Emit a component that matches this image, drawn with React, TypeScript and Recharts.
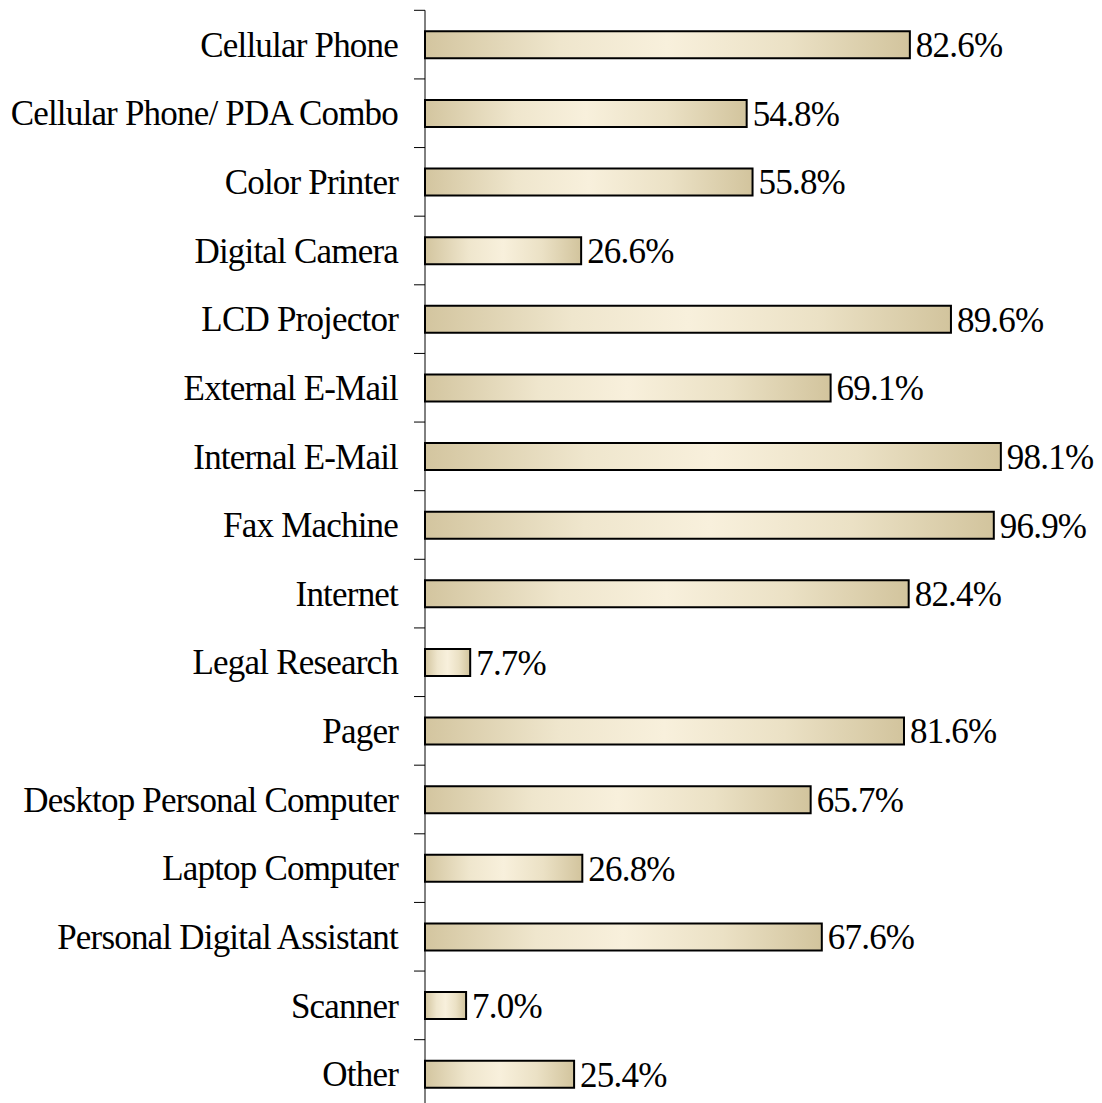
import { BarChart, Bar, XAxis, YAxis, LabelList } from "recharts"

const categories = [
  "Cellular Phone",
  "Cellular Phone/ PDA Combo",
  "Color Printer",
  "Digital Camera",
  "LCD Projector",
  "External E-Mail",
  "Internal E-Mail",
  "Fax Machine",
  "Internet",
  "Legal Research",
  "Pager",
  "Desktop Personal Computer",
  "Laptop Computer",
  "Personal Digital Assistant",
  "Scanner",
  "Other",
]

const percents = [
  82.6, 54.8, 55.8, 26.6, 89.6, 69.1, 98.1, 96.9, 82.4, 7.7, 81.6, 65.7, 26.8,
  67.6, 7.0, 25.4,
]

const data = categories.map((name, i) => ({ name, value: percents[i] }))

// chart geometry (plot runs a little past the bottom of the picture)
const W = 1102
const H = 1110
const MT = 10.3
const MB = 1.7
const BAND = (H - MT - MB) / categories.length
const FONT = '"Liberation Serif", "Times New Roman", serif'

function CategoryTick(props: any) {
  const { x, y, payload, index } = props
  // tick marks sit on the band boundaries, not the band centres
  const axisX = x + 16 + 11
  return (
    <g>
      <line x1={axisX - 11} x2={axisX} y1={y - BAND / 2} y2={y - BAND / 2} stroke="#000" />
      {index === categories.length - 1 && (
        <line x1={axisX - 11} x2={axisX} y1={y + BAND / 2} y2={y + BAND / 2} stroke="#000" />
      )}
      <text
        x={x}
        y={y}
        dy="0.35em"
        textAnchor="end"
        fill="#000"
        style={{ fontFamily: FONT, fontSize: 35, letterSpacing: -0.8 }}
      >
        {payload.value}
      </text>
    </g>
  )
}

export default function App() {
  return (
    <div
      style={{
        position: "absolute",
        left: 0,
        top: 0,
        width: W,
        height: 1103,
        overflow: "hidden",
        background: "#fff",
      }}
    >
      <BarChart
        width={W}
        height={H}
        data={data}
        layout="vertical"
        margin={{ top: MT, right: 90, bottom: MB, left: 0 }}
      >
        <defs>
          <linearGradient id="barFill" x1="0" y1="0" x2="1" y2="0">
            <stop offset="0%" stopColor="#d3c59f" />
            <stop offset="28%" stopColor="#efe6cd" />
            <stop offset="50%" stopColor="#f8f0dc" />
            <stop offset="75%" stopColor="#ebe1c5" />
            <stop offset="100%" stopColor="#d2c49d" />
          </linearGradient>
        </defs>
        <XAxis type="number" domain={[0, 100]} hide />
        <YAxis
          type="category"
          dataKey="name"
          width={425}
          tickSize={11}
          tickMargin={16}
          tickLine={false}
          axisLine={{ stroke: "#000" }}
          tick={<CategoryTick />}
          interval={0}
        />
        <Bar
          dataKey="value"
          barSize={27}
          fill="url(#barFill)"
          stroke="#000"
          strokeWidth={2}
          isAnimationActive={false}
        >
          <LabelList
            dataKey="value"
            position="right"
            offset={6}
            formatter={(v: any) => `${Number(v).toFixed(1)}%`}
            style={{ fontFamily: FONT, fontSize: 35, letterSpacing: -0.8, fill: "#000" }}
          />
        </Bar>
      </BarChart>
    </div>
  )
}
